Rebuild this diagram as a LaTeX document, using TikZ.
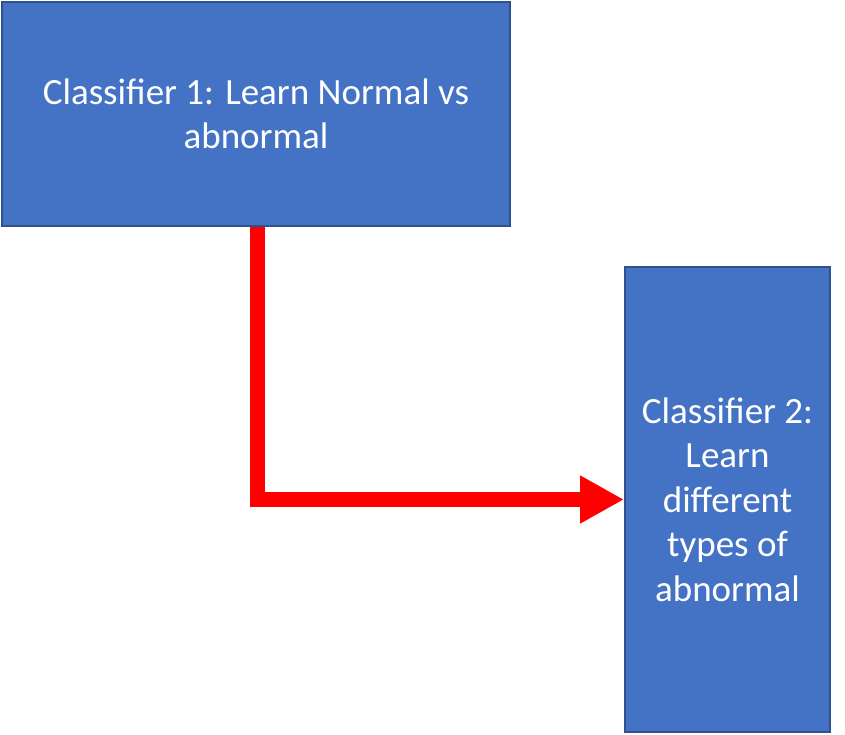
\documentclass[tikz,border=0pt]{standalone}
\usepackage{fontspec}
\setmainfont{Carlito}
\usetikzlibrary{arrows.meta}
\definecolor{boxfill}{HTML}{4472C4}
\definecolor{boxline}{HTML}{2F528F}
\definecolor{arrowred}{HTML}{FF0000}
\begin{document}
\begin{tikzpicture}[x=1pt,y=-1pt,
  box/.style={draw=boxline, fill=boxfill, line width=2pt, inner sep=0pt,
    text=white, align=center, font=\fontsize{37}{44.5}\selectfont},
  flow/.style={draw=arrowred, line width=15pt,
    -{Triangle[length=44pt,width=45pt]}}]
\useasboundingbox (0,0) rectangle (845,734);
\node[box, anchor=north west, minimum width=508pt, minimum height=224pt]
  (c1) at (1,1) {Classifier 1: Learn Normal vs\\abnormal};
\node[box, anchor=north west, minimum width=205pt, minimum height=465pt]
  (c2) at (624,266) {Classifier 2:\\Learn\\different\\types of\\abnormal};
\draw[flow] ([xshift=1.5pt]c1.south) |- (c2.west);
\end{tikzpicture}
\end{document}
